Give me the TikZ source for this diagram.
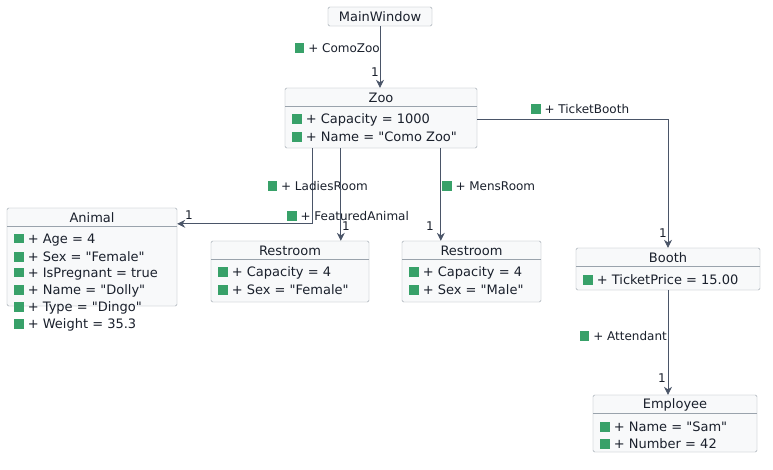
\documentclass[tikz,border=0pt]{standalone}
\usepackage{fontspec}
\setmainfont{DejaVu Sans}
\usetikzlibrary{fit,calc,arrows.meta}
\definecolor{bd}{HTML}{9AA3AC}
\definecolor{fl}{HTML}{F8F9FA}
\definecolor{ln}{HTML}{4A5568}
\definecolor{gr}{HTML}{38A169}
\definecolor{tx}{HTML}{1A202C}
\newcommand\sq{\textcolor{gr}{\rule{9.5pt}{9.5pt}}}
\newcommand\q{\textquotedbl}
\tikzset{
  cls/.style={draw=bd,fill=fl,rounded corners=1.5pt,inner sep=0pt},
  txt/.style={font=\fontsize{13}{15}\selectfont,text=tx,inner sep=0pt},
  lbl/.style={font=\fontsize{12}{14}\selectfont,text=tx,inner sep=1pt},
  conn/.style={draw=ln,line width=0.8pt,-{Stealth[length=8pt,width=8pt]}}
}
\newcommand\clsbox[7]{%
  \node[cls,fit={(#2,#3)(#4,#5)}] (#1) {};
  \node[txt] (#1-t) at ({(#2+#4)/2},#3+9.5) {#6};
  \draw[bd] (#2,#3+18.5) -- (#4,#3+18.5);
  \foreach \r [count=\i] in {#7} \node[txt,anchor=west] (#1-r\i) at (#2+7,#3+15+17*\i) {\sq\ + \r};
}
\begin{document}
\begin{tikzpicture}[x=1pt,y=-1pt]
\useasboundingbox[fill=white] (0,0) rectangle (773,469);
\node[cls,fit={(328,7)(432,26)}] (mw) {};
\node[txt] (mwt) at (mw.center) {MainWindow};
\clsbox{zoo}{285}{88}{477}{148}{Zoo}{Capacity = 1000,Name = \q Como Zoo\q}
\clsbox{animal}{7}{208}{177}{306}{Animal}{Age = 4,Sex = \q Female\q,IsPregnant = true,Name = \q Dolly\q,Type = \q Dingo\q,Weight = 35.3}
\clsbox{rr1}{211}{241}{369}{302}{Restroom}{Capacity = 4,Sex = \q Female\q}
\clsbox{rr2}{402}{241}{541}{302}{Restroom}{Capacity = 4,Sex = \q Male\q}
\clsbox{booth}{576}{248}{760}{290}{Booth}{TicketPrice = 15.00}
\clsbox{emp}{593}{395}{757}{452}{Employee}{Name = \q Sam\q,Number = 42}

\draw[conn] (mw.south) -- (mw.south |- zoo.north);
\node[lbl,anchor=east] (l1) at (381,48) {\sq\ + ComoZoo};
\node[lbl] (m1) at (375,72) {1};

\draw[conn] ([xshift=28pt]zoo.south west) |- ([yshift=-16pt]animal.north east);
\node[lbl,anchor=east] (l2) at (369,186) {\sq\ + LadiesRoom};
\node[lbl] (m2) at (189,215) {1};

\draw[conn] ([xshift=56pt]zoo.south west) -- ([xshift=130pt]rr1.north west);
\node[lbl,anchor=west] (l3) at (286,216) {\sq\ + FeaturedAnimal};
\node[lbl] (m3) at (346,226) {1};

\draw[conn] ([xshift=156pt]zoo.south west) -- ([xshift=39pt]rr2.north west);
\node[lbl,anchor=west] (l4) at (441,186) {\sq\ + MensRoom};
\node[lbl] (m4) at (430,226) {1};

\draw[conn] ([yshift=-32pt]zoo.north east) -| (booth.north);
\node[lbl,anchor=west] (l5) at (530,109) {\sq\ + TicketBooth};
\node[lbl] (m5) at (663,233) {1};

\draw[conn] (booth.south) -- (booth.south |- emp.north);
\node[lbl,anchor=east] (l6) at (668,336) {\sq\ + Attendant};
\node[lbl] (m6) at (662,378) {1};
\end{tikzpicture}
\end{document}
